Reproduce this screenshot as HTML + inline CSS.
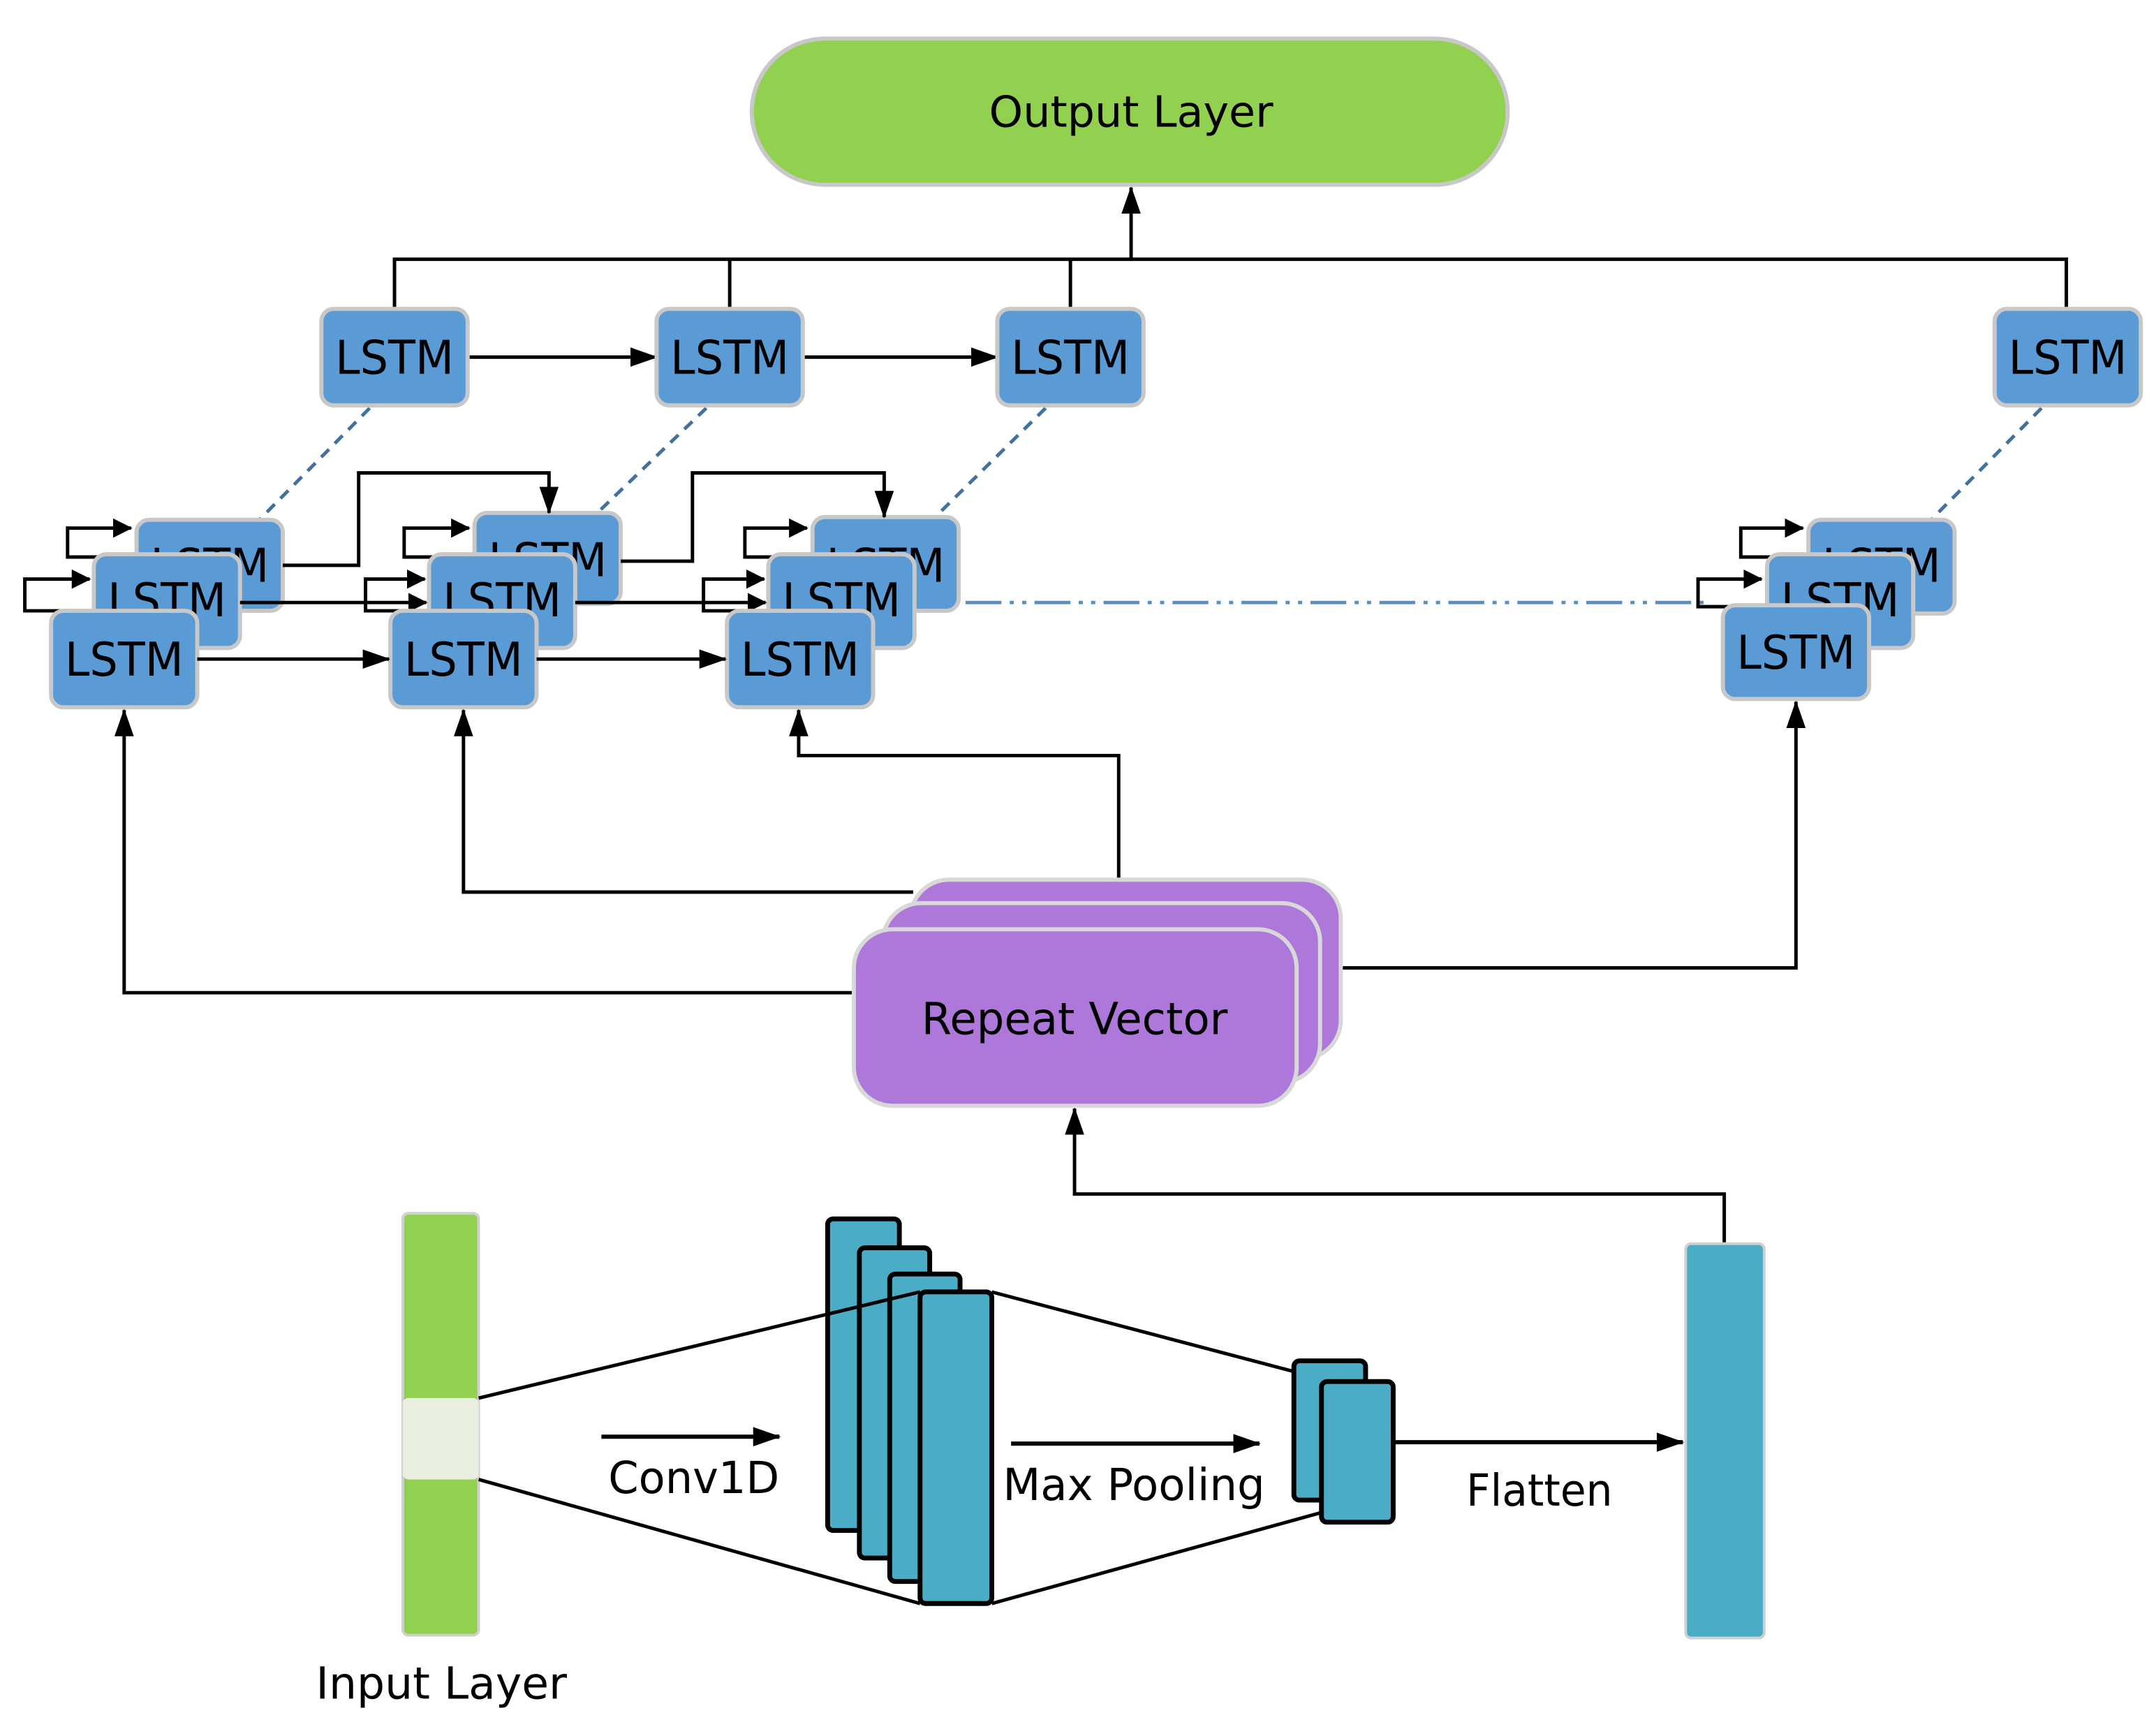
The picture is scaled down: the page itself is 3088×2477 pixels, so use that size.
<!DOCTYPE html>
<html><head><meta charset="utf-8"><style>
html,body{margin:0;padding:0;background:#fff;}
svg{display:block;}
text{font-family:"DejaVu Sans","Liberation Sans",sans-serif;fill:#000;}
</style></head><body>
<svg width="3088" height="2477" viewBox="0 0 1563 1254" preserveAspectRatio="none" xmlns="http://www.w3.org/2000/svg">
<defs>
<marker id="a" markerWidth="14" markerHeight="14" refX="13" refY="7" orient="auto" markerUnits="userSpaceOnUse" viewBox="0 0 14 14">
<path d="M0,0 L14,7 L0,14 z" fill="#000"/></marker>
<marker id="b" markerWidth="20" markerHeight="20" refX="19" refY="10" orient="auto" markerUnits="userSpaceOnUse" viewBox="0 0 20 20">
<path d="M0,3 L20,10 L0,17 z" fill="#000"/></marker>
</defs>
<g stroke="#000" stroke-width="2.5" fill="none">
<polyline points="286,224 286,188 1498,188 1498,224"/>
<line x1="529" y1="224" x2="529" y2="188"/>
<line x1="776" y1="224" x2="776" y2="188"/>
<line x1="820" y1="188" x2="820" y2="136" marker-end="url(#b)"/>
<line x1="339" y1="259" x2="476" y2="259" marker-end="url(#b)"/>
<line x1="582" y1="259" x2="723" y2="259" marker-end="url(#b)"/>
</g>
<g stroke="#41719c" stroke-width="2.5" stroke-dasharray="8,6" fill="none">
<line x1="268" y1="296" x2="188" y2="377"/>
<line x1="512" y1="296" x2="433" y2="372"/>
<line x1="758" y1="296" x2="678" y2="375"/>
<line x1="1480" y1="296" x2="1400" y2="377"/>
</g>
<line x1="700" y1="437" x2="1235" y2="437" stroke="#5a8fc4" stroke-width="2.5" stroke-dasharray="26,6,3,6,3,6"/>
<rect x="545" y="28" width="548" height="106" rx="53" fill="#92d050" stroke="#c8c8c8" stroke-width="3"/>
<text x="820" y="92" font-size="31" text-anchor="middle" textLength="206" lengthAdjust="spacingAndGlyphs">Output Layer</text>
<g fill="#5b9bd5" stroke="#c8c8c8" stroke-width="3">
<rect x="233" y="224" width="106" height="70" rx="9"/>
<rect x="476" y="224" width="106" height="70" rx="9"/>
<rect x="723" y="224" width="106" height="70" rx="9"/>
<rect x="1446" y="224" width="106" height="70" rx="9"/>
</g>
<g font-size="34" text-anchor="middle">
<text x="286" y="271" textLength="86" lengthAdjust="spacingAndGlyphs">LSTM</text>
<text x="529" y="271" textLength="86" lengthAdjust="spacingAndGlyphs">LSTM</text>
<text x="776" y="271" textLength="86" lengthAdjust="spacingAndGlyphs">LSTM</text>
<text x="1499" y="271" textLength="86" lengthAdjust="spacingAndGlyphs">LSTM</text>
</g>
<g stroke="#000" stroke-width="2.5" fill="none">
<polyline points="99,404 49,404 49,383 95,383" marker-end="url(#a)"/>
<polyline points="68,443 18,443 18,420 65,420" marker-end="url(#a)"/>
<polyline points="344,404 293,404 293,383 340,383" marker-end="url(#a)"/>
<polyline points="311,443 265,443 265,420 308,420" marker-end="url(#a)"/>
<polyline points="589,404 540,404 540,383 585,383" marker-end="url(#a)"/>
<polyline points="557,443 510,443 510,420 554,420" marker-end="url(#a)"/>
<polyline points="1311,404 1262,404 1262,383 1307,383" marker-end="url(#a)"/>
<polyline points="1281,440 1231,440 1231,420 1277,420" marker-end="url(#a)"/>
</g>
<g fill="#5b9bd5" stroke="#c8c8c8" stroke-width="3">
<rect x="99" y="377" width="106" height="66" rx="9"/>
<rect x="344" y="372" width="106" height="66" rx="9"/>
<rect x="589" y="375" width="106" height="68" rx="9"/>
<rect x="1311" y="377" width="106" height="68" rx="9"/>
</g>
<g font-size="34" text-anchor="middle">
<text x="152" y="422" textLength="86" lengthAdjust="spacingAndGlyphs">LSTM</text>
<text x="397" y="418" textLength="86" lengthAdjust="spacingAndGlyphs">LSTM</text>
<text x="642" y="422" textLength="86" lengthAdjust="spacingAndGlyphs">LSTM</text>
<text x="1364" y="422" textLength="86" lengthAdjust="spacingAndGlyphs">LSTM</text>
</g>
<g fill="#5b9bd5" stroke="#c8c8c8" stroke-width="3">
<rect x="68" y="402" width="106" height="68" rx="9"/>
<rect x="311" y="402" width="106" height="68" rx="9"/>
<rect x="557" y="402" width="106" height="68" rx="9"/>
<rect x="1281" y="402" width="106" height="68" rx="9"/>
</g>
<g font-size="34" text-anchor="middle">
<text x="121" y="447" textLength="86" lengthAdjust="spacingAndGlyphs">LSTM</text>
<text x="364" y="447" textLength="86" lengthAdjust="spacingAndGlyphs">LSTM</text>
<text x="610" y="447" textLength="86" lengthAdjust="spacingAndGlyphs">LSTM</text>
<text x="1334" y="447" textLength="86" lengthAdjust="spacingAndGlyphs">LSTM</text>
</g>
<g stroke="#000" stroke-width="2.5" fill="none">
<line x1="174" y1="437" x2="309" y2="437" marker-end="url(#a)"/>
<line x1="417" y1="437" x2="555" y2="437" marker-end="url(#a)"/>
<polyline points="205,410 260,410 260,343 398,343 398,372" marker-end="url(#b)"/>
<polyline points="450,407 502,407 502,343 641,343 641,375" marker-end="url(#b)"/>
</g>
<g fill="#5b9bd5" stroke="#c8c8c8" stroke-width="3">
<rect x="37" y="443" width="106" height="70" rx="9"/>
<rect x="283" y="443" width="106" height="70" rx="9"/>
<rect x="527" y="443" width="106" height="70" rx="9"/>
<rect x="1249" y="439" width="106" height="68" rx="9"/>
</g>
<g font-size="34" text-anchor="middle">
<text x="90" y="490" textLength="86" lengthAdjust="spacingAndGlyphs">LSTM</text>
<text x="336" y="490" textLength="86" lengthAdjust="spacingAndGlyphs">LSTM</text>
<text x="580" y="490" textLength="86" lengthAdjust="spacingAndGlyphs">LSTM</text>
<text x="1302" y="485" textLength="86" lengthAdjust="spacingAndGlyphs">LSTM</text>
</g>
<g stroke="#000" stroke-width="2.5" fill="none">
<line x1="143" y1="478" x2="282" y2="478" marker-end="url(#b)"/>
<line x1="389" y1="478" x2="526" y2="478" marker-end="url(#b)"/>
</g>
<g stroke="#000" stroke-width="2.5" fill="none">
<polyline points="620,720 90,720 90,515" marker-end="url(#b)"/>
<polyline points="662,647 336,647 336,515" marker-end="url(#b)"/>
<polyline points="811,640 811,548 579,548 579,515" marker-end="url(#b)"/>
<polyline points="972,702 1302,702 1302,509" marker-end="url(#b)"/>
<polyline points="1250,902 1250,866 779,866 779,804" marker-end="url(#b)"/>
</g>
<g fill="#ad78d9" stroke="#d8d8d8" stroke-width="3">
<rect x="660" y="638" width="312" height="130" rx="28"/>
<rect x="640" y="655" width="317" height="130" rx="28"/>
<rect x="619" y="674" width="321" height="128" rx="28"/>
</g>
<text x="779" y="750" font-size="32" text-anchor="middle" textLength="222" lengthAdjust="spacingAndGlyphs">Repeat Vector</text>
<rect x="292" y="880" width="55" height="306" rx="4" fill="#92d050" stroke="#d0d0d0" stroke-width="2"/>
<rect x="292" y="1014" width="55" height="59" rx="4" fill="#e9efdf"/>
<text x="320" y="1232" font-size="32" text-anchor="middle" textLength="182" lengthAdjust="spacingAndGlyphs">Input Layer</text>
<g fill="#4bacc6" stroke="#000" stroke-width="3.5">
<rect x="600" y="884" width="52" height="226" rx="4"/>
<rect x="623" y="905" width="51" height="225" rx="4"/>
<rect x="645" y="924" width="51" height="223" rx="4"/>
<rect x="667" y="937" width="52" height="226" rx="4"/>
</g>
<g stroke="#000" stroke-width="2.5" fill="none">
<line x1="347" y1="1014" x2="667" y2="937"/>
<line x1="347" y1="1073" x2="667" y2="1163"/>
<line x1="719" y1="937" x2="958" y2="1000"/>
<line x1="719" y1="1163" x2="958" y2="1097"/>
</g>
<g fill="#4bacc6" stroke="#000" stroke-width="3.5">
<rect x="938" y="987" width="52" height="101" rx="4"/>
<rect x="958" y="1002" width="52" height="102" rx="4"/>
</g>
<g stroke="#000" stroke-width="3" fill="none">
<line x1="436" y1="1042" x2="565" y2="1042" marker-end="url(#b)"/>
<line x1="733" y1="1047" x2="913" y2="1047" marker-end="url(#b)"/>
<line x1="1010" y1="1046" x2="1220" y2="1046" marker-end="url(#b)"/>
</g>
<g font-size="32" text-anchor="middle">
<text x="503" y="1083" textLength="124" lengthAdjust="spacingAndGlyphs">Conv1D</text>
<text x="822" y="1088" textLength="190" lengthAdjust="spacingAndGlyphs">Max Pooling</text>
<text x="1116" y="1092" textLength="106" lengthAdjust="spacingAndGlyphs">Flatten</text>
</g>
<rect x="1222" y="902" width="57" height="286" rx="4" fill="#4bacc6" stroke="#d0d0d0" stroke-width="2"/>
</svg>
</body></html>
